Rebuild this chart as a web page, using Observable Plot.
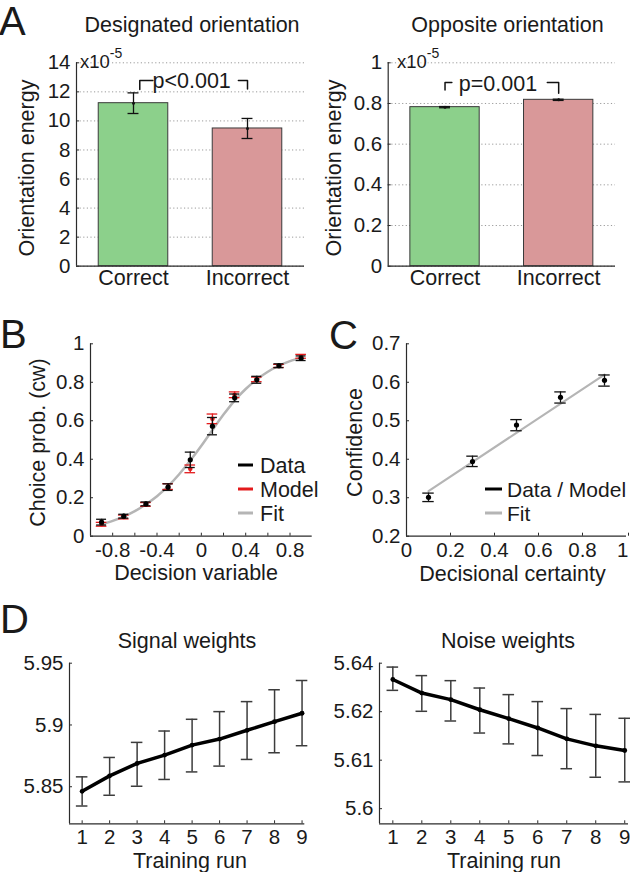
<!DOCTYPE html>
<html><head><meta charset="utf-8">
<script src="https://cdn.jsdelivr.net/npm/d3@7"></script>
<script src="https://cdn.jsdelivr.net/npm/@observablehq/plot@0.6"></script>
<style>
body{margin:0;background:#fff;}
#fig{position:relative;width:630px;height:872px;overflow:hidden;background:#fff;font-family:"Liberation Sans",Arial,sans-serif;}
</style></head><body><div id="fig"></div><script>
// ---------- DATA ----------
// Panel A (orientation energy, x10^-5)
const outcomes = ["Correct", "Incorrect"];
const barColors = ["#8cd08b", "#d99899"];
const designatedEnergy = [11.22, 9.48];
const designatedErr = [0.71, 0.69];
const designatedTicks = [0, 2, 4, 6, 8, 10, 12, 14];
const oppositeEnergy = [0.782, 0.818];
const oppositeErr = [0.003, 0.003];
const oppositeTicks = [0, 0.2, 0.4, 0.6, 0.8, 1];
const pLabels = ["p<0.001", "p=0.001"];

// Panel B (choice probability)
const decisionVar = [-0.9, -0.7, -0.5, -0.3, -0.1, 0.1, 0.3, 0.5, 0.7, 0.9];
const choiceData = [0.073, 0.104, 0.168, 0.255, 0.397, 0.572, 0.719, 0.813, 0.886, 0.925];
const choiceDataErr = [0.015, 0.010, 0.010, 0.017, 0.040, 0.045, 0.020, 0.018, 0.010, 0.012];
const choiceModel = [0.062, 0.100, 0.165, 0.258, 0.350, 0.610, 0.735, 0.815, 0.885, 0.935];
const choiceModelErr = [0.010, 0.010, 0.010, 0.015, 0.020, 0.025, 0.015, 0.012, 0.008, 0.010];
const choiceFitX = [-0.9, -0.8, -0.7, -0.6, -0.5, -0.4, -0.3, -0.2, -0.1, 0, 0.1, 0.2, 0.3, 0.4, 0.5, 0.6, 0.7, 0.8, 0.9];
const choiceFitY = [0.062, 0.080, 0.102, 0.130, 0.166, 0.208, 0.260, 0.322, 0.393, 0.470, 0.552, 0.632, 0.705, 0.765, 0.815, 0.855, 0.886, 0.910, 0.928];
const bTicksX = [-0.8, -0.6, -0.4, -0.2, 0, 0.2, 0.4, 0.6, 0.8];
const bTickLabelsX = ["-0.8", "", "-0.4", "", "0", "", "0.4", "", "0.8"];
const bTicksY = [0, 0.2, 0.4, 0.6, 0.8, 1];
const bLegend = ["Data", "Model", "Fit"];

// Panel C (confidence)
const certainty = [0.1, 0.3, 0.5, 0.7, 0.9];
const confidence = [0.301, 0.394, 0.489, 0.561, 0.605];
const confidenceLo = [0.290, 0.381, 0.474, 0.546, 0.590];
const confidenceHi = [0.312, 0.408, 0.503, 0.575, 0.619];
const confFitX = [0.1, 0.9];
const confFitY = [0.317, 0.620];
const cTicksX = [0, 0.2, 0.4, 0.6, 0.8, 1];
const cTicksY = [0.2, 0.3, 0.4, 0.5, 0.6, 0.7];
const cLegend = ["Data / Model", "Fit"];

// Panel D (weights over training runs)
const trainingRun = [1, 2, 3, 4, 5, 6, 7, 8, 9];
const signalW = [5.8463, 5.8588, 5.8689, 5.8756, 5.8837, 5.8886, 5.8957, 5.9027, 5.9095];
const signalLo = [5.8344, 5.8431, 5.8504, 5.8559, 5.8620, 5.8667, 5.8721, 5.8775, 5.8832];
const signalHi = [5.8580, 5.8737, 5.8859, 5.8951, 5.9046, 5.9108, 5.9189, 5.9285, 5.9360];
const signalTicks = [5.85, 5.9, 5.95];
const noiseW = [5.6333, 5.6298, 5.6281, 5.6255, 5.6232, 5.6208, 5.6180, 5.6162, 5.6150];
const noiseLo = [5.6305, 5.6251, 5.6226, 5.6195, 5.6167, 5.6137, 5.6103, 5.6081, 5.6069];
const noiseHi = [5.6365, 5.6343, 5.6330, 5.6311, 5.6294, 5.6276, 5.6258, 5.6243, 5.6233];
const noiseTicks = [5.6, 5.6125, 5.625, 5.6375];
const noiseTickLabels = ["5.6", "5.61", "5.62", "5.64"];

// ---------- HELPERS ----------
const fig = document.getElementById("fig");
const FONT = '"Liberation Sans", Arial, sans-serif';
const AX = "#2b2b2b";
const baseStyle = {fontFamily: FONT, fontSize: "20.5px", color: "#1a1a1a", background: "transparent", overflow: "visible"};
const fmt = d => String(d);
function place(el, left, top) {
  el.style.position = "absolute"; el.style.left = left + "px"; el.style.top = top + "px";
  fig.appendChild(el);
}
function errMarks(xs, lo, hi, cap, stroke, sw) {
  const idx = d3.range(xs.length);
  return [
    Plot.ruleX(idx, {x: i => xs[i], y1: i => lo[i], y2: i => hi[i], stroke, strokeWidth: sw}),
    Plot.ruleY(idx, {y: i => lo[i], x1: i => xs[i] - cap, x2: i => xs[i] + cap, stroke, strokeWidth: sw}),
    Plot.ruleY(idx, {y: i => hi[i], x1: i => xs[i] - cap, x2: i => xs[i] + cap, stroke, strokeWidth: sw})
  ];
}
const pos = outcomes.map((d, i) => i + 1);

function barPanel({values, err, ticks, yDomain, pIndex, pX, pY, bracketTop, bracketL, bracketR, width, mLeft, mRight}) {
  const idx = d3.range(values.length);
  const lo = values.map((v, i) => v - err[i]);
  const hi = values.map((v, i) => v + err[i]);
  return Plot.plot({
    width, height: 260, marginLeft: mLeft, marginRight: mRight, marginTop: 22.3, marginBottom: 34.3,
    style: baseStyle,
    x: {domain: [0.5, 2.5]},
    y: {domain: yDomain},
    marks: [
      Plot.gridY(ticks, {stroke: "#9a9a9a", strokeOpacity: 1, strokeDasharray: "1.2,2.4", strokeWidth: 1}),
      Plot.rectY(idx, {x1: i => pos[i] - 0.305, x2: i => pos[i] + 0.305, y1: 0, y2: i => values[i], fill: i => barColors[i], stroke: "#3a3a3a", strokeWidth: 1}),
      ...errMarks(pos, lo, hi, 0.048, "#111", 1.3),
      Plot.dot(idx, {x: i => pos[i], y: i => values[i], r: 1.5, fill: "#111"}),
      Plot.line([[bracketL[0], bracketL[1]], [bracketL[0], bracketTop], [bracketL[2], bracketTop]], {stroke: "#111", strokeWidth: 1.5}),
      Plot.line([[bracketR[2], bracketTop], [bracketR[0], bracketTop], [bracketR[0], bracketR[1]]], {stroke: "#111", strokeWidth: 1.5}),
      Plot.text([pLabels[pIndex]], {x: pX, y: pY, text: d => d, lineAnchor: "bottom", fontSize: 21.5, fill: "#1a1a1a"}),
      Plot.ruleX([0.5], {stroke: AX, strokeWidth: 1.2}),
      Plot.ruleY([yDomain[0]], {stroke: AX, strokeWidth: 1.2}),
      Plot.axisY({ticks, tickFormat: fmt, tickSize: -3, tickPadding: 9, stroke: AX}),
      Plot.axisX({ticks: pos, tickFormat: d => outcomes[d - 1], tickSize: 0, tickPadding: 4, fontSize: 21.5})
    ]
  });
}

// ---------- PANEL A ----------
place(barPanel({values: designatedEnergy, err: designatedErr, ticks: designatedTicks, yDomain: [0, 14],
  pIndex: 0, pX: 1.51, pY: 12.28, bracketTop: 12.78, bracketL: [1.055, 12.16, 1.17], bracketR: [2, 12.2, 1.92],
  width: 310, mLeft: 76, mRight: 6}), 0, 40);
place(barPanel({values: oppositeEnergy, err: oppositeErr, ticks: oppositeTicks, yDomain: [0, 1],
  pIndex: 1, pX: 1.466, pY: 0.862, bracketTop: 0.903, bracketL: [1, 0.866, 1.06], bracketR: [2, 0.85, 1.9],
  width: 320, mLeft: 77.7, mRight: 15}), 310, 40);

// ---------- PANEL B ----------
{
  const fitIdx = d3.range(choiceFitX.length);
  const idx = d3.range(decisionVar.length);
  const mLo = choiceModel.map((v, i) => v - choiceModelErr[i]), mHi = choiceModel.map((v, i) => v + choiceModelErr[i]);
  const dLo = choiceData.map((v, i) => v - choiceDataErr[i]), dHi = choiceData.map((v, i) => v + choiceDataErr[i]);
  place(Plot.plot({
    width: 315, height: 290, marginLeft: 90, marginRight: 3.3, marginTop: 43.3, marginBottom: 54.3,
    style: baseStyle,
    x: {domain: [-1, 1]}, y: {domain: [0, 1]},
    marks: [
      Plot.line(fitIdx, {x: i => choiceFitX[i], y: i => choiceFitY[i], stroke: "#b5b5b5", strokeWidth: 2.5, curve: "catmull-rom"}),
      ...errMarks(decisionVar, mLo, mHi, 0.048, "#e31a1c", 1.3),
      Plot.dot(idx, {x: i => decisionVar[i], y: i => choiceModel[i], r: 2.3, fill: "#e31a1c"}),
      ...errMarks(decisionVar, dLo, dHi, 0.045, "#111", 1.3),
      Plot.dot(idx, {x: i => decisionVar[i], y: i => choiceData[i], r: 2.6, fill: "#000"}),
      Plot.ruleX([-1], {stroke: AX, strokeWidth: 1.2}),
      Plot.ruleY([0], {stroke: AX, strokeWidth: 1.2}),
      Plot.axisX({ticks: bTicksX, tickFormat: d => bTickLabelsX[bTicksX.indexOf(d)], tickSize: -3, tickPadding: 9, stroke: AX}),
      Plot.axisY({ticks: bTicksY, tickFormat: fmt, tickSize: -3, tickPadding: 9, stroke: AX})
    ]
  }), 0, 300);
}

// ---------- PANEL C ----------
{
  const idx = d3.range(certainty.length);
  const last = cTicksX[cTicksX.length - 1];
  place(Plot.plot({
    width: 320, height: 290, marginLeft: 96, marginRight: 4, marginTop: 43.3, marginBottom: 54.3,
    style: baseStyle,
    x: {domain: [0, 1]}, y: {domain: [0.2, 0.7]},
    marks: [
      Plot.line(d3.range(confFitX.length), {x: i => confFitX[i], y: i => confFitY[i], stroke: "#b5b5b5", strokeWidth: 2.2}),
      ...errMarks(certainty, confidenceLo, confidenceHi, 0.026, "#111", 1.3),
      Plot.dot(idx, {x: i => certainty[i], y: i => confidence[i], r: 2.6, fill: "#000"}),
      Plot.ruleX([0], {stroke: AX, strokeWidth: 1.2}),
      Plot.ruleY([0.2], {stroke: AX, strokeWidth: 1.2}),
      Plot.axisX({ticks: cTicksX.slice(0, -1), tickFormat: fmt, tickSize: -3, tickPadding: 9, stroke: AX}),
      Plot.axisX({ticks: [last], tickFormat: fmt, tickSize: -3, tickPadding: 9, stroke: AX, textAnchor: "end", dx: 2}),
      Plot.axisY({ticks: cTicksY, tickFormat: fmt, tickSize: -3, tickPadding: 9, stroke: AX})
    ]
  }), 310, 300);
}

// ---------- PANEL D ----------
function weightPanel({w, lo, hi, yDomain, ticks, tickFmt, xDomain, width, mRight, cap}) {
  const idx = d3.range(trainingRun.length);
  return Plot.plot({
    width, height: 222, marginLeft: 69, marginRight: mRight, marginTop: 12.7, marginBottom: 872 - 650 - 160.6 - 12.7,
    style: baseStyle,
    x: {domain: xDomain}, y: {domain: yDomain},
    marks: [
      ...errMarks(trainingRun, lo, hi, cap, "#3c3c3c", 1.5),
      Plot.line(idx, {x: i => trainingRun[i], y: i => w[i], stroke: "#000", strokeWidth: 3.5}),
      Plot.dot(idx, {x: i => trainingRun[i], y: i => w[i], r: 2.4, fill: "#000"}),
      Plot.ruleX([xDomain[0]], {stroke: AX, strokeWidth: 1.2}),
      Plot.ruleY([yDomain[0]], {stroke: AX, strokeWidth: 1.2}),
      Plot.axisX({ticks: trainingRun, tickSize: -3, tickPadding: 9, stroke: AX}),
      Plot.axisY({ticks, tickFormat: tickFmt, tickSize: -3, tickPadding: 9, stroke: AX})
    ]
  });
}
place(weightPanel({w: signalW, lo: signalLo, hi: signalHi, yDomain: [5.82, 5.95], ticks: signalTicks,
  tickFmt: fmt, xDomain: [0.54, 9.1], width: 310, mRight: 5.7, cap: 0.21}), 0, 650);
place(weightPanel({w: noiseW, lo: noiseLo, hi: noiseHi, yDomain: [5.5961, 5.6375], ticks: noiseTicks,
  tickFmt: d => noiseTickLabels[noiseTicks.indexOf(d)], xDomain: [0.54, 9.13], width: 320, mRight: 2, cap: 0.2}), 310, 650);

// ---------- OVERLAY TEXT (letters, titles, axis labels, legends) ----------
const ov = d3.select(fig).append("svg")
  .attr("width", 630).attr("height", 872)
  .style("position", "absolute").style("left", "0px").style("top", "0px")
  .style("font-family", FONT).style("pointer-events", "none");
const txt = "#1a1a1a";
[["A", -1, 35], ["B", 0, 348], ["C", 329, 349], ["D", 0, 633]].forEach(([t, x, y]) =>
  ov.append("text").attr("x", x).attr("y", y).attr("font-size", 40).attr("fill", txt).text(t));
[["Designated orientation", 192, 32], ["Opposite orientation", 507.5, 32], ["Signal weights", 187, 648], ["Noise weights", 508, 648],
 ["Decision variable", 196, 580], ["Decisional certainty", 512.5, 581], ["Training run", 190, 868], ["Training run", 504, 868]]
  .forEach(([t, x, y]) => ov.append("text").attr("x", x).attr("y", y).attr("font-size", 21.5)
    .attr("text-anchor", "middle").attr("fill", txt).text(t));
[["Orientation energy", 34, 168], ["Orientation energy", 341, 168], ["Choice prob. (cw)", 45, 442.5], ["Confidence", 362, 442.5]]
  .forEach(([t, x, y]) => ov.append("text").attr("transform", `translate(${x},${y}) rotate(-90)`).attr("font-size", 21.5)
    .attr("text-anchor", "middle").attr("fill", txt).text(t));
// exponent labels
[[80, 68], [397, 68]].forEach(([x, y]) => {
  const t = ov.append("text").attr("x", x).attr("y", y).attr("fill", txt)
    .attr("stroke", "#fff").attr("stroke-width", 3).attr("paint-order", "stroke");
  t.append("tspan").attr("font-size", 18.5).text("x10");
  t.append("tspan").attr("font-size", 14).attr("dy", -10).text("-5");
});
// legends
const legB = [["#000", 465], ["#e31a1c", 489], ["#b5b5b5", 513]];
legB.forEach(([c, y], i) => {
  ov.append("line").attr("x1", 238).attr("x2", 253).attr("y1", y).attr("y2", y).attr("stroke", c).attr("stroke-width", 3);
  ov.append("text").attr("x", 260).attr("y", y + 7.5).attr("font-size", 21.5).attr("fill", txt).text(bLegend[i]);
});
const legC = [["#000", 489], ["#b5b5b5", 513]];
legC.forEach(([c, y], i) => {
  ov.append("line").attr("x1", 485).attr("x2", 502).attr("y1", y).attr("y2", y).attr("stroke", c).attr("stroke-width", 3);
  ov.append("text").attr("x", 507).attr("y", y + 7.5).attr("font-size", 21).attr("fill", txt).text(cLegend[i]);
});
</script></body></html>
